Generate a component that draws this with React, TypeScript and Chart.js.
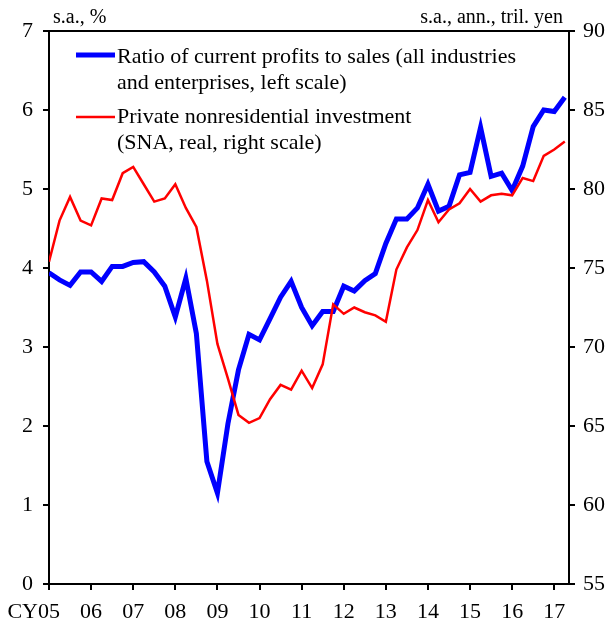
import { useEffect, useRef } from 'react';
import { Chart, registerables } from 'chart.js';

Chart.register(...registerables);

// Year tick labels (one tick per Q1)
const years = ['05', '06', '07', '08', '09', '10', '11', '12', '13', '14', '15', '16', '17'];
const yearPrefix = 'CY';

// Ratio of current profits to sales (%), quarterly 2005Q1 - 2017Q2, left scale
const profitRatio = [
  3.94, 3.85, 3.78, 3.95, 3.95, 3.83, 4.02, 4.02, 4.07, 4.08,
  3.95, 3.77, 3.38, 3.87, 3.17, 1.55, 1.15, 2.03, 2.71, 3.16,
  3.09, 3.36, 3.63, 3.83, 3.5, 3.27, 3.45, 3.45, 3.77, 3.71,
  3.84, 3.93, 4.31, 4.62, 4.62, 4.76, 5.06, 4.72, 4.78, 5.18,
  5.21, 5.78, 5.16, 5.2, 4.98, 5.29, 5.79, 6.0, 5.98, 6.16,
];

// Private nonresidential investment (tril. yen), quarterly, right scale
const investment = [
  75.4, 78.0, 79.5, 78.0, 77.7, 79.4, 79.3, 81.0, 81.4, 80.3,
  79.2, 79.4, 80.3, 78.8, 77.6, 74.2, 70.2, 68.0, 65.7, 65.2,
  65.5, 66.7, 67.6, 67.3, 68.5, 67.4, 68.9, 72.7, 72.1, 72.5,
  72.2, 72.0, 71.6, 74.9, 76.3, 77.4, 79.3, 77.9, 78.7, 79.1,
  80.0, 79.2, 79.6, 79.7, 79.6, 80.7, 80.5, 82.1, 82.5, 83.0,
];

const profitLabel = ['Ratio of current profits to sales (all industries', 'and enterprises, left scale)'];
const investmentLabel = ['Private nonresidential investment', '(SNA, real, right scale)'];
const leftUnit = 's.a., %';
const rightUnit = 's.a., ann., tril. yen';

const FONT = "'Liberation Serif', 'Times New Roman', Times, serif";

export default function App() {
  const ref = useRef<HTMLCanvasElement | null>(null);

  useEffect(() => {
    const canvas = ref.current;
    if (!canvas) return;

    const overlay = {
      id: 'overlay',
      afterDraw(chart: any) {
        const c = chart.ctx as CanvasRenderingContext2D;
        const a = chart.chartArea;
        c.save();
        // top frame line
        c.strokeStyle = '#000';
        c.lineWidth = 2;
        c.beginPath();
        c.moveTo(a.left - 1, a.top);
        c.lineTo(a.right + 1, a.top);
        c.stroke();

        // unit labels
        c.fillStyle = '#000';
        c.font = `20px ${FONT}`;
        c.textBaseline = 'alphabetic';
        c.textAlign = 'left';
        c.fillText(leftUnit, 53, 23);
        c.textAlign = 'right';
        c.fillText(rightUnit, 563, 23);

        // "CY" prefix before first year label
        c.font = `22px ${FONT}`;
        const xs = chart.scales.x;
        const x0 = xs.getPixelForValue(0);
        const w0 = c.measureText(years[0]).width;
        c.textAlign = 'right';
        c.fillText(yearPrefix, x0 - w0 / 2, 618);

        // legend
        const ds = chart.data.datasets;
        const items = [
          { color: ds[0].borderColor, width: ds[0].borderWidth, lines: profitLabel, lineY: 55, base: 63 },
          { color: ds[1].borderColor, width: ds[1].borderWidth, lines: investmentLabel, lineY: 117, base: 123 },
        ];
        c.textAlign = 'left';
        for (const it of items) {
          c.strokeStyle = it.color;
          c.lineWidth = it.width;
          c.beginPath();
          c.moveTo(76, it.lineY);
          c.lineTo(115, it.lineY);
          c.stroke();
          c.fillStyle = '#000';
          it.lines.forEach((t: string, i: number) => c.fillText(t, 117, it.base + i * 25.5));
        }
        c.restore();
      },
    };

    const chart = new Chart(canvas, {
      type: 'line',
      data: {
        datasets: [
          {
            label: profitLabel.join(' '),
            data: profitRatio.map((v, i) => ({ x: i, y: v })),
            borderColor: '#0000FF',
            borderWidth: 5,
            pointRadius: 0,
            tension: 0,
            yAxisID: 'y',
            order: 1,
          },
          {
            label: investmentLabel.join(' '),
            data: investment.map((v, i) => ({ x: i, y: v })),
            borderColor: '#FF0000',
            borderWidth: 2.5,
            pointRadius: 0,
            tension: 0,
            yAxisID: 'y1',
            order: 0,
          },
        ],
      },
      options: {
        responsive: false,
        animation: false,
        events: [],
        layout: { padding: { top: 31, left: 0, right: 0, bottom: 0 } },
        plugins: {
          legend: { display: false },
          tooltip: { enabled: false },
        },
        scales: {
          x: {
            type: 'linear',
            min: 0,
            max: 49.4,
            afterFit: (s: any) => { s.height = 37; },
            border: { display: true, color: '#000', width: 2 },
            grid: { display: true, drawOnChartArea: false, drawTicks: true, tickLength: 6, color: '#000', lineWidth: 2 },
            ticks: {
              stepSize: 4,
              includeBounds: false,
              autoSkip: false,
              maxRotation: 0,
              padding: 9,
              color: '#000',
              font: { family: FONT, size: 22 },
              callback: (v: any) => {
                const n = Number(v);
                return n % 4 === 0 && years[n / 4] !== undefined ? years[n / 4] : '';
              },
            },
          },
          y: {
            position: 'left',
            min: 0,
            max: 7,
            afterFit: (s: any) => { s.width = 49; },
            border: { display: true, color: '#000', width: 2 },
            grid: { display: true, drawOnChartArea: false, drawTicks: true, tickLength: 6, color: '#000', lineWidth: 2 },
            ticks: { stepSize: 1, padding: 10, color: '#000', font: { family: FONT, size: 22 } },
          },
          y1: {
            position: 'right',
            min: 55,
            max: 90,
            afterFit: (s: any) => { s.width = 46; },
            border: { display: true, color: '#000', width: 2 },
            grid: { display: true, drawOnChartArea: false, drawTicks: true, tickLength: 6, color: '#000', lineWidth: 2 },
            ticks: { stepSize: 5, padding: 8, color: '#000', font: { family: FONT, size: 22 } },
          },
        },
      },
      plugins: [overlay],
    } as any);

    return () => chart.destroy();
  }, []);

  return (
    <div style={{ position: 'fixed', left: 0, top: 0, width: 615, height: 621, background: '#fff' }}>
      <canvas ref={ref} width={615} height={621} style={{ display: 'block' }} />
    </div>
  );
}
